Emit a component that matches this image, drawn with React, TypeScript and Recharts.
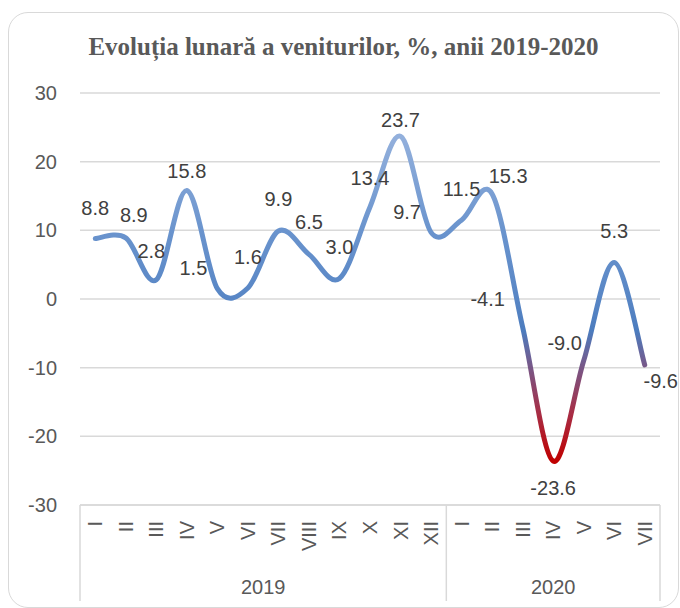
import React from 'react';
import { LineChart, Line, XAxis, YAxis, CartesianGrid } from 'recharts';

// ---------- data ----------
const months = ['I', 'II', 'III', 'IV', 'V', 'VI', 'VII', 'VIII', 'IX', 'X', 'XI', 'XII', 'I', 'II', 'III', 'IV', 'V', 'VI', 'VII'];
const values = [8.8, 8.9, 2.8, 15.8, 1.5, 1.6, 9.9, 6.5, 3.0, 13.4, 23.7, 9.7, 11.5, 15.3, -4.1, -23.6, -9.0, 5.3, -9.6];
const yearLabels = ['2019', '2020'];
const yearCounts = [12, 7];
const yTicks = [-30, -20, -10, 0, 10, 20, 30];
const title = 'Evoluția lunară a veniturilor, %, anii 2019-2020';

// label placement relative to each point (styling)
const labelDx = [0, 8, -5, 0, -24, 0, 0, 0, 0, 0, 0, -24, 0, 16, -35, 0, -19, 0, 16];
const labelDy = [-31, -23, -29, -20, -21, -31, -32, -32, -31, -29, -16, -20, -31, -18, -28, 27, -18, -32, 16];

// ---------- layout ----------
const CHART_W = 680;
const CHART_H = 608;
const MARGIN = { top: 93, right: 20, bottom: 0, left: 20 };
const Y_AXIS_W = 60;
const X_AXIS_H = 103;
const PLOT_LEFT = MARGIN.left + Y_AXIS_W;
const PLOT_W = CHART_W - PLOT_LEFT - MARGIN.right;
const BAND = PLOT_W / months.length;
const FONT = "'Liberation Sans', Arial, sans-serif";
const GRID = '#D9D9D9';

const data = months.map((m, i) => ({ key: String(i), month: m, value: values[i] }));

const groupStarts: number[] = [];
{
  let acc = 0;
  yearCounts.forEach((c) => {
    groupStarts.push(acc);
    acc += c;
  });
}

// Excel-like smoothed curve (Catmull-Rom style Bezier, tension 1/6)
const excelSmooth = (context: any) => {
  let pts: number[][] = [];
  return {
    areaStart() {},
    areaEnd() {},
    lineStart() {
      pts = [];
    },
    point(x: number, y: number) {
      pts.push([+x, +y]);
    },
    lineEnd() {
      const n = pts.length;
      if (!n) return;
      context.moveTo(pts[0][0], pts[0][1]);
      for (let i = 0; i < n - 1; i++) {
        const p0 = pts[i - 1] || pts[i];
        const p1 = pts[i];
        const p2 = pts[i + 1];
        const p3 = pts[i + 2] || pts[i + 1];
        const c1x = p1[0] + (p2[0] - p0[0]) / 6;
        const c1y = p1[1] + (p2[1] - p0[1]) / 6;
        const c2x = p2[0] - (p3[0] - p1[0]) / 6;
        const c2y = p2[1] - (p3[1] - p1[1]) / 6;
        context.bezierCurveTo(c1x, c1y, c2x, c2y, p2[0], p2[1]);
      }
    },
  };
};

const AxisTick = (props: any) => {
  const { x, y, payload } = props;
  const i = Number(payload?.value);
  const ty = y + 16;
  const parts: React.ReactNode[] = [];
  parts.push(
    <text
      key="t"
      x={x}
      y={ty}
      transform={`rotate(-90, ${x}, ${ty})`}
      textAnchor="end"
      dominantBaseline="central"
      fontSize={20}
      fill="#595959"
      fontFamily={FONT}
    >
      {months[i]}
    </text>
  );
  groupStarts.forEach((start, g) => {
    const count = yearCounts[g];
    if (i === start) {
      parts.push(<line key={`gl${g}`} x1={x - BAND / 2} x2={x - BAND / 2} y1={y} y2={y + 96} stroke={GRID} strokeWidth={1.5} />);
    }
    const mid = start + (count - 1) / 2;
    if (i === Math.floor(mid)) {
      parts.push(
        <text
          key={`yl${g}`}
          x={x + (mid - Math.floor(mid)) * BAND}
          y={y + 82}
          textAnchor="middle"
          dominantBaseline="central"
          fontSize={20}
          fill="#595959"
          fontFamily={FONT}
        >
          {yearLabels[g]}
        </text>
      );
    }
  });
  if (i === months.length - 1) {
    parts.push(<line key="end" x1={x + BAND / 2} x2={x + BAND / 2} y1={y} y2={y + 96} stroke={GRID} strokeWidth={1.5} />);
  }
  return <g>{parts}</g>;
};

const DotLabel = (props: any) => {
  const { cx, cy, index, value } = props;
  if (cx == null || cy == null) return <g key={`d${index}`} />;
  return (
    <text
      key={`d${index}`}
      x={cx + labelDx[index]}
      y={cy + labelDy[index]}
      textAnchor="middle"
      dominantBaseline="central"
      fontSize={20}
      fill="#404040"
      fontFamily={FONT}
    >
      {Number(value).toFixed(1)}
    </text>
  );
};

export default function App() {
  return (
    <div style={{ position: 'absolute', left: 0, top: 0, width: CHART_W, height: CHART_H, background: '#fff', overflow: 'hidden' }}>
      <div
        style={{
          position: 'absolute',
          left: 8,
          top: 12,
          width: 671,
          height: 596,
          border: `1.5px solid ${GRID}`,
          borderRadius: 20,
          boxSizing: 'border-box',
        }}
      />
      <div
        style={{
          position: 'absolute',
          left: 8,
          top: 32,
          width: 671,
          textAlign: 'center',
          fontFamily: "'Liberation Serif', 'DejaVu Serif', serif",
          fontWeight: 'bold',
          fontSize: 25,
          lineHeight: '30px',
          color: '#595959',
        }}
      >
        {title}
      </div>
      <div style={{ position: 'absolute', left: 0, top: 0 }}>
        <LineChart width={CHART_W} height={CHART_H} data={data} margin={MARGIN}>
          <defs>
            <linearGradient id="lineGrad" x1="0" y1="0" x2="0" y2="1">
              <stop offset="0" stopColor="#93B0DC" />
              <stop offset="0.3" stopColor="#6993CD" />
              <stop offset="0.5" stopColor="#5886C5" />
              <stop offset="0.6" stopColor="#4C7CBE" />
              <stop offset="0.7" stopColor="#745A8C" />
              <stop offset="0.85" stopColor="#A72E46" />
              <stop offset="1" stopColor="#C00000" />
            </linearGradient>
          </defs>
          <CartesianGrid vertical={false} stroke={GRID} strokeWidth={1.5} />
          <XAxis
            dataKey="key"
            scale="band"
            interval={0}
            height={X_AXIS_H}
            tick={AxisTick}
            tickLine={false}
            tickSize={0}
            tickMargin={0}
            axisLine={{ stroke: GRID, strokeWidth: 1.5 }}
          />
          <YAxis
            domain={[-30, 30]}
            ticks={yTicks}
            interval={0}
            width={Y_AXIS_W}
            axisLine={false}
            tickLine={false}
            tickMargin={17}
            tick={{ fontSize: 20, fill: '#595959', fontFamily: FONT }}
          />
          <Line
            dataKey="value"
            type={excelSmooth as any}
            stroke="url(#lineGrad)"
            strokeWidth={5}
            strokeLinecap="round"
            strokeLinejoin="round"
            dot={DotLabel}
            activeDot={false}
            isAnimationActive={false}
          />
        </LineChart>
      </div>
    </div>
  );
}
